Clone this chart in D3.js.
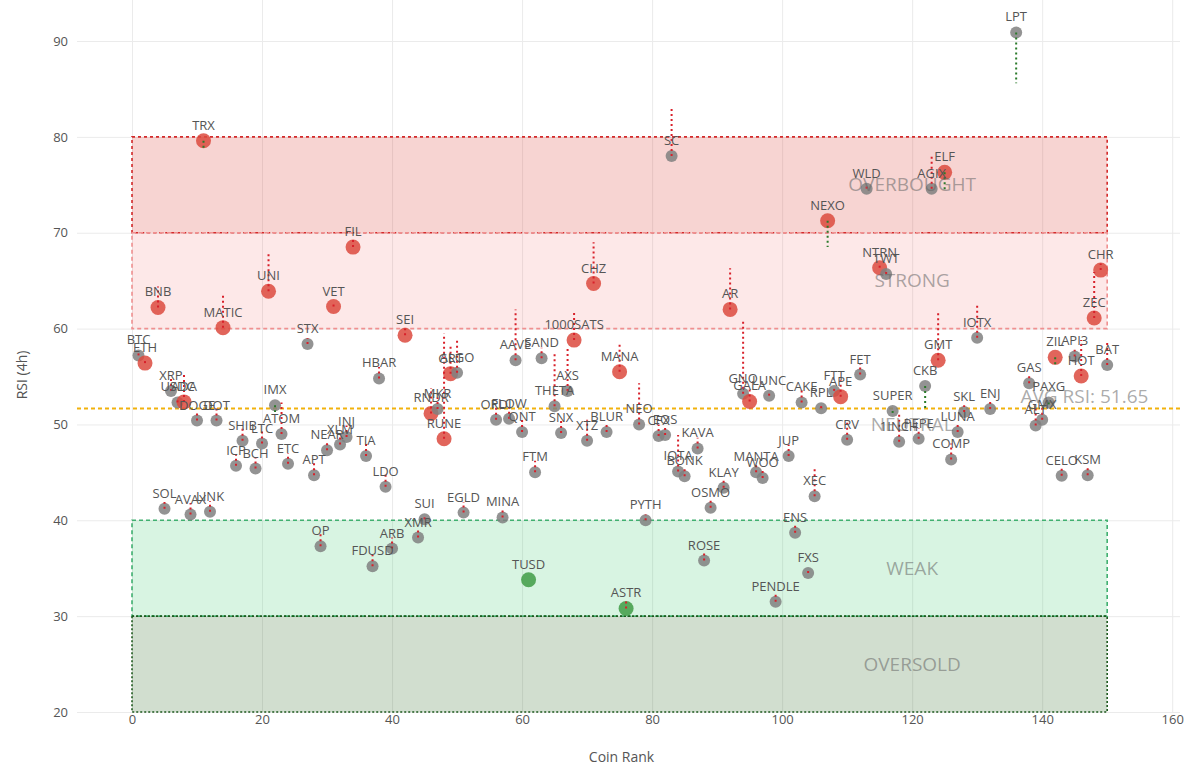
<!DOCTYPE html>
<html>
<head>
<meta charset="utf-8">
<script src="https://cdn.jsdelivr.net/npm/d3@7"></script>
<style>
  body { margin: 0; background: #fff; }
  text { font-family: "Open Sans", sans-serif; }
</style>
</head>
<body>
<div id="chart"></div>
<script>
// coin data
const coins = ['BTC','ETH','BNB','SOL','XRP','USDC','ADA','AVAX','DOGE','TRX','LINK','DOT','MATIC','ICP','SHIB','BCH','LTC','UNI','IMX','ATOM',
  'ETC','STX','APT','OP','NEAR','VET','XLM','INJ','FIL','TIA','FDUSD','HBAR','LDO','ARB','SEI','XMR','SUI','RNDR','MKR','RUNE',
  'GRT','ALGO','EGLD','ORDI','MINA','FLOW','AAVE','QNT','TUSD','FTM','SAND','THETA','SNX','AXS','1000SATS','XTZ','CHZ','BLUR','MANA','ASTR',
  'NEO','PYTH','CFX','EOS','SC','IOTA','BONK','KAVA','ROSE','OSMO','KLAY','AR','GNO','GALA','MANTA','WOO','LUNC','PENDLE','JUP','ENS',
  'CAKE','FXS','XEC','RPL','NEXO','FTT','APE','CRV','FET','WLD','NTRN','TWT','SUPER','1INCH','PEPE','CKB','AGIX','GMT','ELF','COMP',
  'LUNA','SKL','IOTX','ENJ','LPT','GAS','ALT','GMX','PAXG','ZIL','CELO','API3','HOT','KSM','ZEC','CHR','BAT'];

const ranks = [1,2,4,5,6,7,8,9,10,11,12,13,14,16,17,19,20,21,22,23,
  24,27,28,29,30,31,32,33,34,36,37,38,39,40,42,44,45,46,47,48,
  49,50,51,56,57,58,59,60,61,62,63,65,66,67,68,70,71,73,75,76,
  78,79,81,82,83,84,85,87,88,89,91,92,94,95,96,97,98,99,101,102,
  103,104,105,106,107,108,109,110,112,113,115,116,117,118,121,122,123,124,125,126,
  127,128,130,132,136,138,139,140,141,142,143,145,146,147,148,149,150];

const rsi = [57.2,56.4,62.2,41.2,53.5,52.3,52.35,40.6,50.4,79.6,40.9,50.4,60.1,45.7,48.3,45.4,48.0,63.9,52.0,49.0,
  45.9,58.4,44.7,37.3,47.3,62.3,47.9,48.7,68.5,46.7,35.2,54.8,43.5,37.05,59.3,38.2,40.1,51.15,51.6,48.5,
  55.3,55.4,40.8,50.5,40.3,50.6,56.7,49.2,33.8,45.0,56.9,51.9,49.1,53.5,58.8,48.3,64.7,49.2,55.5,30.8,
  50.0,40.0,48.8,48.9,78.0,45.1,44.6,47.5,35.8,41.3,43.4,62.0,53.2,52.4,45.0,44.4,53.0,31.5,46.7,38.7,
  52.3,34.5,42.5,51.7,71.25,53.5,52.9,48.4,55.2,74.6,66.35,65.7,51.4,48.2,48.5,54.0,74.6,56.7,76.3,46.35,
  49.2,51.3,59.05,51.6,90.9,54.3,49.9,50.5,52.3,57.0,44.65,57.1,55.05,44.7,61.1,66.1,56.2];

const prevRsi = [57.7,56.9,64.4,41.9,54.8,52.8,55.3,41.8,51.3,78.7,42.0,51.8,63.75,46.9,49.8,46.6,49.5,67.9,51.3,52.3,
  47.0,59.0,46.0,38.7,48.2,62.6,49.0,49.9,69.4,48.0,36.4,56.0,45.0,38.2,60.0,39.2,40.6,53.8,52.8,59.5,
  58.2,58.8,41.9,51.8,41.3,51.8,62.0,50.6,33.8,46.2,58.0,57.6,50.5,58.1,61.8,50.5,69.0,50.2,58.5,31.8,
  54.3,40.6,50.0,49.9,83.1,48.9,45.6,48.6,36.8,42.2,44.3,66.3,60.9,53.7,46.0,45.4,53.5,32.5,47.9,39.6,
  53.7,35.0,45.4,52.2,68.5,54.0,54.6,50.4,56.4,75.0,66.8,66.0,51.2,51.0,49.6,51.7,78.1,61.65,74.3,48.0,
  50.0,52.0,62.5,52.5,85.6,55.3,51.8,52.0,52.0,56.0,45.7,57.8,58.8,45.7,65.9,66.8,58.5];

// h = highlighted (red), l = low (green), n = normal (grey)
const signal = ['n','h','h','n','n','n','h','n','n','h','n','n','h','n','n','n','n','h','n','n',
  'n','n','n','n','n','h','n','n','h','n','n','n','n','n','h','n','n','h','n','h',
  'h','n','n','n','n','n','n','n','l','n','n','n','n','n','h','n','h','n','h','l',
  'n','n','n','n','n','n','n','n','n','n','n','h','n','h','n','n','n','n','n','n',
  'n','n','n','n','h','n','h','n','n','n','h','n','n','n','n','n','n','h','h','n',
  'n','n','n','n','n','n','n','n','n','h','n','n','h','n','h','h','n'];

const zoneNames = ['OVERBOUGHT','STRONG','NEUTRAL','WEAK','OVERSOLD'];
const zoneLow = [70,60,40,30,20];
const zoneHigh = [80,70,60,40,30];
const avgRsi = 51.65;

const W = 1200, H = 777;
const m = {left: 77, right: 20, top: 0, bottom: 65};
const iw = W - m.left - m.right, ih = H - m.top - m.bottom;

const svg = d3.select('#chart').append('svg')
  .attr('width', W)
  .attr('height', H);

const g = svg.append('g').attr('transform', `translate(${m.left},${m.top})`);

const x = d3.scaleLinear().domain([-8.46, 161.2]).range([0, iw]);
const y = d3.scaleLinear().domain([20, 94.28]).range([ih, 0]);

// grid
const gx = g.append('g')
  .attr('transform', `translate(0,${ih})`)
  .call(d3.axisBottom(x).tickValues(d3.range(0, 161, 20)).tickSize(-ih).tickPadding(3));
const gy = g.append('g')
  .call(d3.axisLeft(y).tickValues(d3.range(20, 91, 10)).tickSize(-iw).tickPadding(9));
[gx, gy].forEach(a => {
  a.select('.domain').remove();
  a.selectAll('line').attr('stroke', '#ebebeb');
  a.selectAll('text').attr('fill', '#555').style('font-size', '13px');
});

// zones
const zoneFill = {OVERBOUGHT: 'rgba(220,60,50,0.22)', STRONG: 'rgba(240,90,90,0.14)', WEAK: 'rgba(60,200,110,0.2)', OVERSOLD: 'rgba(40,100,30,0.21)'};
const zoneStroke = {OVERBOUGHT: '#d42a2a', STRONG: '#f09090', WEAK: '#40b070', OVERSOLD: '#1e5a1e'};
const zoneDash = {OVERBOUGHT: '3,3', STRONG: '4,3', WEAK: '4,3', OVERSOLD: '2,2'};
const zones = zoneNames.map((n, i) => ({name: n, lo: zoneLow[i], hi: zoneHigh[i]}));

g.selectAll('rect.zone')
  .data(zones.filter(z => z.name !== 'NEUTRAL'))
  .join('rect')
  .attr('class', 'zone')
  .attr('x', x(0))
  .attr('y', d => y(d.hi))
  .attr('width', x(150) - x(0))
  .attr('height', d => y(d.lo) - y(d.hi))
  .attr('fill', d => zoneFill[d.name])
  .attr('stroke', d => zoneStroke[d.name])
  .attr('stroke-width', 1.6)
  .attr('stroke-dasharray', d => zoneDash[d.name]);

// average line
g.append('line')
  .attr('x1', 0).attr('x2', iw)
  .attr('y1', y(avgRsi)).attr('y2', y(avgRsi))
  .attr('stroke', '#f2b20c')
  .attr('stroke-width', 2)
  .attr('stroke-dasharray', '4,3');

const pts = coins.map((c, i) => ({coin: c, rank: ranks[i], rsi: rsi[i], prev: prevRsi[i], sig: signal[i]}));
const dotColor = {h: '#dc4a3e', l: '#3f9b45', n: '#808080'};

g.selectAll('circle.pt')
  .data(pts)
  .join('circle')
  .attr('class', 'pt')
  .attr('cx', d => x(d.rank))
  .attr('cy', d => y(d.rsi))
  .attr('r', d => d.sig === 'n' ? 6 : 7.5)
  .attr('fill', d => dotColor[d.sig])
  .attr('opacity', 0.85);

// change since previous reading
g.selectAll('line.chg')
  .data(pts.filter(d => d.prev !== d.rsi))
  .join('line')
  .attr('class', 'chg')
  .attr('x1', d => x(d.rank)).attr('x2', d => x(d.rank))
  .attr('y1', d => y(d.rsi)).attr('y2', d => y(d.prev))
  .attr('stroke', d => d.prev > d.rsi ? '#d8202a' : '#2a7a2a')
  .attr('stroke-width', 2)
  .attr('stroke-dasharray', '2,3');

g.selectAll('text.lbl')
  .data(pts)
  .join('text')
  .attr('class', 'lbl')
  .attr('x', d => x(d.rank))
  .attr('y', d => y(d.rsi) - 11)
  .attr('text-anchor', 'middle')
  .attr('fill', '#555')
  .style('font-size', '13px')
  .text(d => d.coin);

// zone names
g.selectAll('text.zname')
  .data(zones)
  .join('text')
  .attr('class', 'zname')
  .attr('x', x(120))
  .attr('y', d => y((d.lo + d.hi) / 2))
  .attr('dy', '0.35em')
  .attr('text-anchor', 'middle')
  .attr('fill', 'rgba(100,100,100,0.55)')
  .style('font-size', '19px')
  .text(d => d.name);

g.append('text')
  .attr('x', x(146.5))
  .attr('y', y(avgRsi) - 6)
  .attr('text-anchor', 'middle')
  .attr('fill', 'rgba(100,100,100,0.55)')
  .style('font-size', '19px')
  .text('AVG RSI: ' + avgRsi);

svg.append('text')
  .attr('x', m.left + iw / 2 - 7)
  .attr('y', 762)
  .attr('text-anchor', 'middle')
  .attr('fill', '#555')
  .style('font-size', '14px')
  .text('Coin Rank');

svg.append('text')
  .attr('transform', 'translate(27,375) rotate(-90)')
  .attr('text-anchor', 'middle')
  .attr('fill', '#555')
  .style('font-size', '14px')
  .text('RSI (4h)');
</script>
</body>
</html>
